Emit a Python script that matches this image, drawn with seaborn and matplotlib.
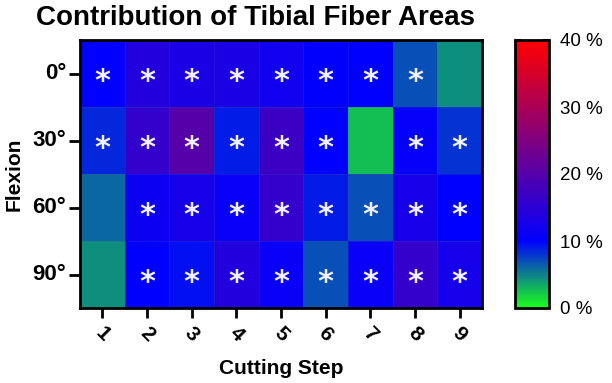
import numpy as np
import pandas as pd
import matplotlib
matplotlib.use("Agg")
import matplotlib.pyplot as plt
import seaborn as sns
from matplotlib.colors import LinearSegmentedColormap

sns.set_style("white")
plt.rcParams['font.family'] = ['Liberation Sans', 'DejaVu Sans']
for k in ["text.color", "axes.labelcolor", "xtick.color", "ytick.color"]:
    plt.rcParams[k] = "black"

steps = ["1", "2", "3", "4", "5", "6", "7", "8", "9"]
flexion = ["0°", "30°", "60°", "90°"]

row_0 = [10.0, 14.0, 13.0, 13.0, 12.0, 10.2, 10.0, 7.0, 4.5]
row_30 = [8.5, 16.0, 20.0, 9.0, 17.0, 10.0, 2.5, 10.5, 8.0]
row_60 = [6.0, 11.5, 12.5, 11.0, 16.0, 9.0, 7.0, 12.5, 10.0]
row_90 = [4.5, 10.0, 9.5, 14.0, 11.0, 7.0, 11.0, 16.0, 12.5]

sig_0 = ["*", "*", "*", "*", "*", "*", "*", "*", ""]
sig_30 = ["*", "*", "*", "*", "*", "*", "", "*", "*"]
sig_60 = ["", "*", "*", "*", "*", "*", "*", "*", "*"]
sig_90 = ["", "*", "*", "*", "*", "*", "*", "*", "*"]

data = pd.DataFrame([row_0, row_30, row_60, row_90], index=flexion, columns=steps)
annot = np.array([sig_0, sig_30, sig_60, sig_90])

cmap = LinearSegmentedColormap.from_list(
    "prism", [(0.0, (0.1, 1.0, 0.1)), (0.25, (0.0, 0.0, 1.0)), (1.0, (1.0, 0.0, 0.0))])

fig = plt.figure(figsize=(6.12, 3.83), dpi=100)
ax = fig.add_axes([80/612, 1-308/383, 402/612, 268/383])
cax = fig.add_axes([515/612, 1-308/383, 34/612, 268/383])

sns.heatmap(data, ax=ax, cbar_ax=cax, cmap=cmap, vmin=0, vmax=40,
            annot=annot, fmt="", linewidths=0.4, linecolor=(0.3, 0.3, 0.7, 0.25),
            annot_kws={"color": "white", "fontsize": 22, "fontweight": "bold",
                       "family": "DejaVu Sans"},
            cbar_kws={"ticks": [0, 10, 20, 30, 40]})

# shift asterisks down so the glyph sits near the cell centre
for t in ax.texts:
    x, y = t.get_position()
    t.set_position((x, y + 0.12))
    t.set_color((0.95, 0.95, 1.0))

for s in ax.spines.values():
    s.set_visible(True)
    s.set_linewidth(2)
    s.set_color("black")

fig.text(256/612, 1-18/383, "Contribution of Tibial Fiber Areas", fontsize=20,
         fontweight="bold", ha="center", va="center")
ax.set_xlabel("Cutting Step", fontsize=15, fontweight="bold", labelpad=10)
ax.set_ylabel("Flexion", fontsize=15, fontweight="bold", labelpad=6)
ax.tick_params(axis="x", bottom=True, length=7, width=2, direction="out",
               labelsize=15, color="black", pad=4)
ax.tick_params(axis="y", left=True, length=8, width=2, direction="out",
               labelsize=16, color="black", pad=2)
for lab in ax.get_xticklabels():
    lab.set_rotation(-45)
    lab.set_fontweight("bold")
    lab.set_ha("center")
for lab in ax.get_yticklabels():
    lab.set_rotation(0)
    lab.set_fontweight("bold")

cax.set_yticklabels([f"{t} %" for t in [0, 10, 20, 30, 40]], fontsize=13.5)
cax.tick_params(axis="y", direction="in", left=True, right=True, length=4, width=1.5,
                color="black", pad=8)
cb = ax.collections[0].colorbar
cb.outline.set_visible(True)
cb.outline.set_linewidth(2)
cb.outline.set_edgecolor("black")

fig.savefig("out.png", dpi=100)
